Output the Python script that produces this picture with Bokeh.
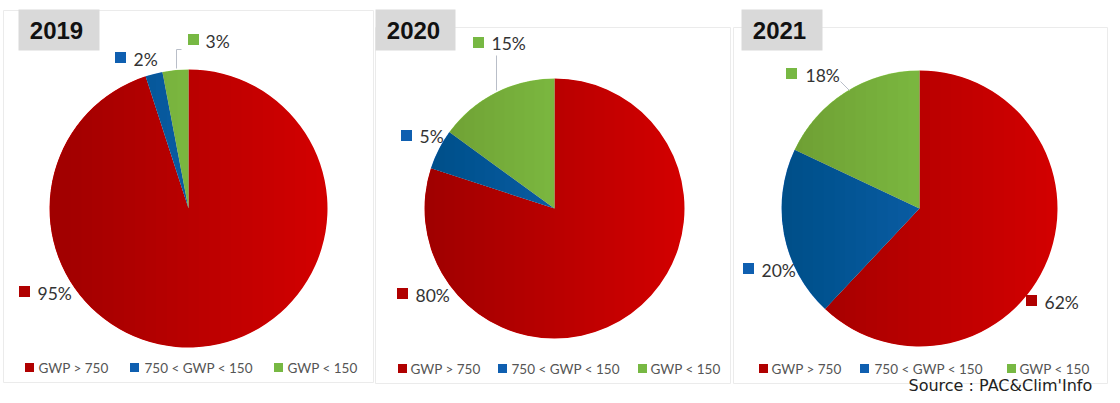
import numpy as np
from bokeh.plotting import figure
from bokeh.models import Range1d
from bokeh.core.properties import value
from bokeh.embed import file_html
from bokeh.resources import INLINE

# ---------------- data ----------------
years = ["2019", "2020", "2021"]
categories = ["GWP > 750", "750 < GWP < 150", "GWP < 150"]
share_2019 = [95, 2, 3]
share_2020 = [80, 5, 15]
share_2021 = [62, 20, 18]
pct_labels_2019 = ["95%", "2%", "3%"]
pct_labels_2020 = ["80%", "5%", "15%"]
pct_labels_2021 = ["62%", "20%", "18%"]
source_text = "Source : PAC&Clim'Info"

# ---------------- styles / layout (page pixel coordinates) ----------------
slice_colors = ["#d20000", "#1668bb", "#8fd04c"]
legend_colors = ["#b00000", "#0f5fb0", "#77b843"]
label_color = "#333333"
legend_text_color = "#555555"

W, H = 1112, 395
def Y(y):
    return 403 - y

panels = [  # left, right, top, bottom
    (3, 373, 10, 382),
    (375, 730, 27, 383),
    (733, 1107, 27, 383),
]
title_boxes = [(18, 99, 9, 50), (375, 455, 9, 50), (741, 822, 9, 50)]
title_centers = [(56, 30), (413, 30), (779, 30)]
centers = [(188, 208), (554, 208), (919, 208)]
radii = [139, 130, 138]
# per pie: [square centre, text left x, text centre y] for each category
label_pos = [
    [((24, 291), 37, 293), ((120, 57), 133, 59), ((193, 39), 205, 41)],
    [((402, 293), 415, 295), ((406, 135), 419, 136), ((478, 42), 491, 43)],
    [((1031, 300), 1044, 302), ((748, 268), 761, 270), ((791, 73), 805, 75)],
]
leaders = [
    [((176, 49), (176, 68)), ((176, 49), (181, 49))],
    [((496, 55), (496, 90))],
    [((840, 81), (849, 90))],
]
legend_y = [367, 368, 368]
legend_sq_x = [[29, 134, 278], [402, 502, 642], [763, 864, 1011]]
legend_tx_x = [[38, 144, 287], [410, 511, 650], [771, 874, 1019]]

shares = [share_2019, share_2020, share_2021]
pct_labels = [pct_labels_2019, pct_labels_2020, pct_labels_2021]

# ---------------- figure ----------------
p = figure(width=W, height=H, output_backend="svg", toolbar_location=None,
           x_range=Range1d(0, W), y_range=Range1d(403 - H, 403),
           min_border=0, x_axis_location=None, y_axis_location=None)
p.grid.visible = False
p.outline_line_color = None
p.background_fill_color = "white"
p.border_fill_color = "white"

# panel frames
p.quad(left=[b[0] for b in panels], right=[b[1] for b in panels],
       top=[Y(b[2]) for b in panels], bottom=[Y(b[3]) for b in panels],
       fill_alpha=0, line_color="#ebebeb", line_width=1)

# title boxes
p.quad(left=[b[0] for b in title_boxes], right=[b[1] for b in title_boxes],
       top=[Y(b[2]) for b in title_boxes], bottom=[Y(b[3]) for b in title_boxes],
       fill_color="#d9d9d9", line_color=None)
p.text(x=[c[0] for c in title_centers], y=[Y(c[1]) for c in title_centers], text=years,
       text_font=value("Liberation Sans"), text_font_style="bold", text_font_size="24px",
       text_color="#111111", text_align="center", text_baseline="middle")

for i in range(3):
    cx, cy = centers[i]
    r = radii[i]
    vals = np.array(shares[i], dtype=float)
    frac = vals / vals.sum()
    cum = np.concatenate([[0], np.cumsum(frac)])
    starts = np.pi / 2 - 2 * np.pi * cum[1:]
    ends = np.pi / 2 - 2 * np.pi * cum[:-1]
    p.wedge(x=[cx] * 3, y=[Y(cy)] * 3, radius=r, start_angle=list(starts), end_angle=list(ends),
            direction="anticlock", fill_color=slice_colors, line_color=None)
    # shading overlay (darker to the left)
    N = 26
    xs, ys = [], []
    for k in range(1, N):
        xk = -r + 2 * r * k / N
        t0 = np.arccos(xk / r)
        t = np.linspace(t0, 2 * np.pi - t0, 60)
        xs.append(list(cx + r * np.cos(t)))
        ys.append(list(Y(cy) + r * np.sin(t)))
    p.patches(xs=xs, ys=ys, fill_color="black", fill_alpha=0.008, line_color=None)

    # leader lines
    for (a, b) in leaders[i]:
        p.line(x=[a[0], b[0]], y=[Y(a[1]), Y(b[1])], line_color="#b9bec8", line_width=1)

    # percentage labels
    lp = label_pos[i]
    p.scatter(x=[q[0][0] for q in lp], y=[Y(q[0][1]) for q in lp], marker="square", size=11,
              fill_color=legend_colors, line_color=None)
    p.text(x=[q[1] for q in lp], y=[Y(q[2]) for q in lp], text=pct_labels[i],
           text_font=value("Lato"), text_font_size="17.5px", text_color=label_color,
           text_align="left", text_baseline="middle")

    # legend
    p.scatter(x=legend_sq_x[i], y=[Y(legend_y[i])] * 3, marker="square", size=9,
              fill_color=legend_colors, line_color=None)
    p.text(x=legend_tx_x[i], y=[Y(legend_y[i])] * 3, text=categories,
           text_font=value("Lato"), text_font_size="13.5px", text_color=legend_text_color,
           text_align="left", text_baseline="middle")

p.text(x=[908], y=[Y(385)], text=[source_text], text_font=value("DejaVu Sans"),
       text_font_size="16px", text_color="#222222", text_align="left", text_baseline="middle")

open("out.html", "w").write(file_html(p, INLINE))
